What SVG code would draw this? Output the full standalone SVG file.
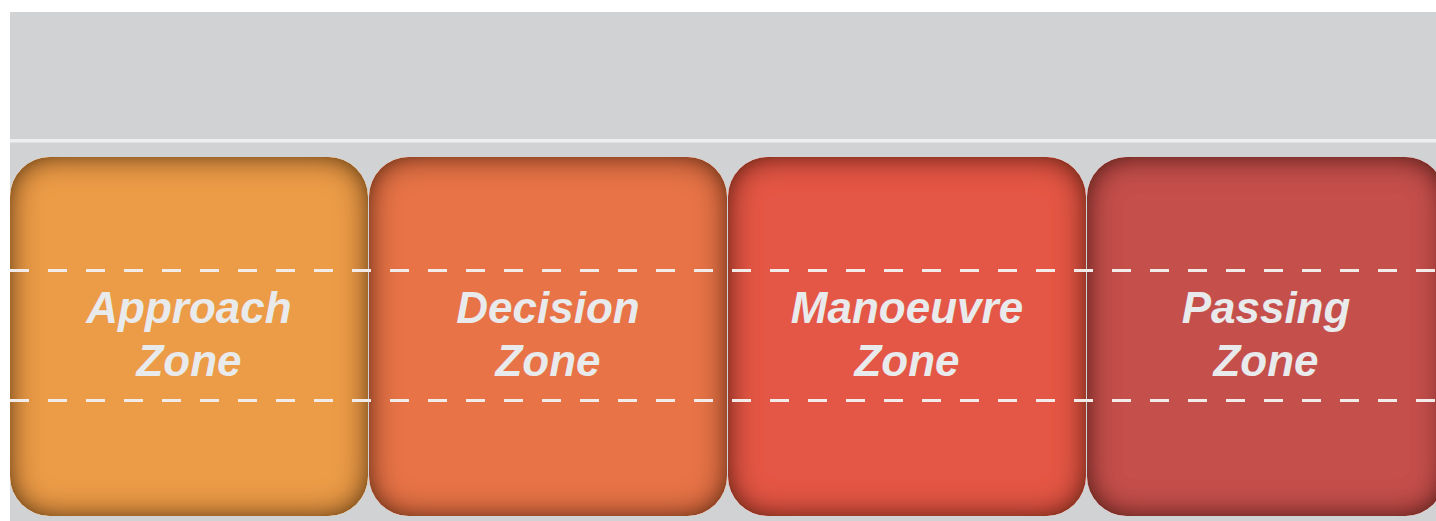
<svg xmlns="http://www.w3.org/2000/svg" width="1436" height="521" viewBox="0 0 1436 521">
  <defs>
    <style>
      .zone { filter: url(#inner); }
      .lbl { font-family: "Liberation Sans", Arial, sans-serif; font-weight: bold; font-style: italic; font-size: 44px; fill: #e9eaec; text-anchor: middle; }
      .dash { stroke: #f1ece9; stroke-width: 3; stroke-dasharray: 19 19; fill: none; }
    </style>
    <filter id="inner" x="-5%" y="-5%" width="110%" height="110%">
      <feGaussianBlur in="SourceAlpha" stdDeviation="15" result="blur"/>
      <feComposite in="SourceAlpha" in2="blur" operator="arithmetic" k2="1.5" k3="-1.5" result="edge"/>
      <feFlood flood-color="#2a0c00" flood-opacity="0.8"/>
      <feComposite in2="edge" operator="in" result="shadow"/>
      <feMerge>
        <feMergeNode in="SourceGraphic"/>
        <feMergeNode in="shadow"/>
      </feMerge>
    </filter>
  </defs>
  <rect x="0" y="0" width="1436" height="521" fill="#ffffff"/>
  <rect x="10" y="12" width="1426" height="509" fill="#d1d2d4"/>
  <rect x="10" y="139" width="1426" height="3.5" fill="#eeeff1"/>

  <g id="approach">
    <rect class="zone" x="10" y="157" width="358" height="359" rx="40" fill="#ec9b47"/>
    <text class="lbl" x="189" y="323">Approach</text>
    <text class="lbl" x="189" y="376">Zone</text>
  </g>
  <g id="decision">
    <rect class="zone" x="369" y="157" width="358" height="359" rx="40" fill="#e77346"/>
    <text class="lbl" x="548" y="323">Decision</text>
    <text class="lbl" x="548" y="376">Zone</text>
  </g>
  <g id="manoeuvre">
    <rect class="zone" x="728" y="157" width="358" height="359" rx="40" fill="#e45644"/>
    <text class="lbl" x="907" y="323">Manoeuvre</text>
    <text class="lbl" x="907" y="376">Zone</text>
  </g>
  <g id="passing">
    <rect class="zone" x="1087" y="157" width="358" height="359" rx="40" fill="#c4504b"/>
    <text class="lbl" x="1266" y="323">Passing</text>
    <text class="lbl" x="1266" y="376">Zone</text>
  </g>

  <g id="connectors">
    <line class="dash" x1="10" y1="270.5" x2="1436" y2="270.5"/>
    <line class="dash" x1="10" y1="400.5" x2="1436" y2="400.5"/>
  </g>
</svg>
